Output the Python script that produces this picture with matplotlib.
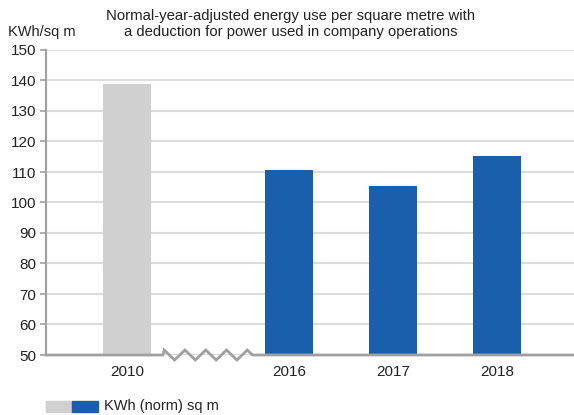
import matplotlib
matplotlib.use("Agg")
import matplotlib.pyplot as plt
from matplotlib.patches import Rectangle

plt.rcParams['font.family'] = ['Liberation Sans', 'DejaVu Sans']

years = ["2010", "2016", "2017", "2018"]
values = [138.8, 110.7, 105.4, 115.3]
positions = [0.0, 1.56, 2.56, 3.56]
bar_colors = ["#d0d0d0", "#1a5fab", "#1a5fab", "#1a5fab"]
yticks = list(range(50, 151, 10))

title = "Normal-year-adjusted energy use per square metre with\na deduction for power used in company operations"
ylabel = "KWh/sq m"
legend_label = "KWh (norm) sq m"

W, H = 574, 415
fig = plt.figure(figsize=(W / 100, H / 100), dpi=100)
ax = fig.add_axes([46 / W, 1 - 355 / H, 1 - 46 / W, (355 - 50) / H])

bar_w = 0.46
ax.bar(positions, [v - 50 for v in values], bottom=50, width=bar_w,
       color=bar_colors, zorder=3)

x_lo, x_hi = -0.78, 4.3
ax.set_ylim(50, 150)
ax.set_xlim(x_lo, x_hi)
ax.set_yticks(yticks)
ax.set_xticks(positions)
ax.set_xticklabels(years)
ax.grid(axis='y', color='#dcdcdc', linewidth=1.5, zorder=0)
ax.set_axisbelow(True)

for s in ('top', 'right'):
    ax.spines[s].set_visible(False)
ax.spines['left'].set_color('#a0a0a0')
ax.spines['left'].set_linewidth(1.5)
ax.spines['bottom'].set_visible(False)

ax.tick_params(axis='y', length=4, width=1.2, color='#a0a0a0',
               labelsize=11, pad=3, labelcolor='#222222')
ax.tick_params(axis='x', length=0, labelsize=11, pad=7, labelcolor='#222222')

# x baseline with a zigzag break between the 2010 bar and the later years
tr = ax.get_xaxis_transform()
z_start, z_end = 0.345, 1.21
amp = 5 / 305.0
half = 0.1  # horizontal distance between a crest and the next trough
first_peak = z_start + 0.012
xs = [x_lo, z_start, first_peak]
ys = [0, 0, amp]
for i in range(1, 9):
    xs.append(first_peak + i * half)
    ys.append(-amp if i % 2 == 1 else amp)
xs += [xs[-1] + 0.05, x_hi]
ys += [0, 0]
ax.plot(xs, ys, transform=tr, color='#a0a0a0', linewidth=2,
        clip_on=False, zorder=4, solid_joinstyle='miter')

fig.text(291 / W, 1 - 24 / H, title, ha='center', va='center',
         fontsize=10.7, color='#222222', linespacing=1.25)
fig.text(8 / W, 1 - 32 / H, ylabel, ha='left', va='center',
         fontsize=10.5, color='#222222')

# legend swatches
fig.add_artist(Rectangle((46 / W, 1 - 412 / H), 26 / W, 11 / H,
                         transform=fig.transFigure, color=bar_colors[0]))
fig.add_artist(Rectangle((72 / W, 1 - 412 / H), 26 / W, 11 / H,
                         transform=fig.transFigure, color=bar_colors[1]))
fig.text(104 / W, 1 - 406 / H, legend_label, ha='left', va='center',
         fontsize=10.5, color='#222222')

fig.savefig("out.png", dpi=100)
